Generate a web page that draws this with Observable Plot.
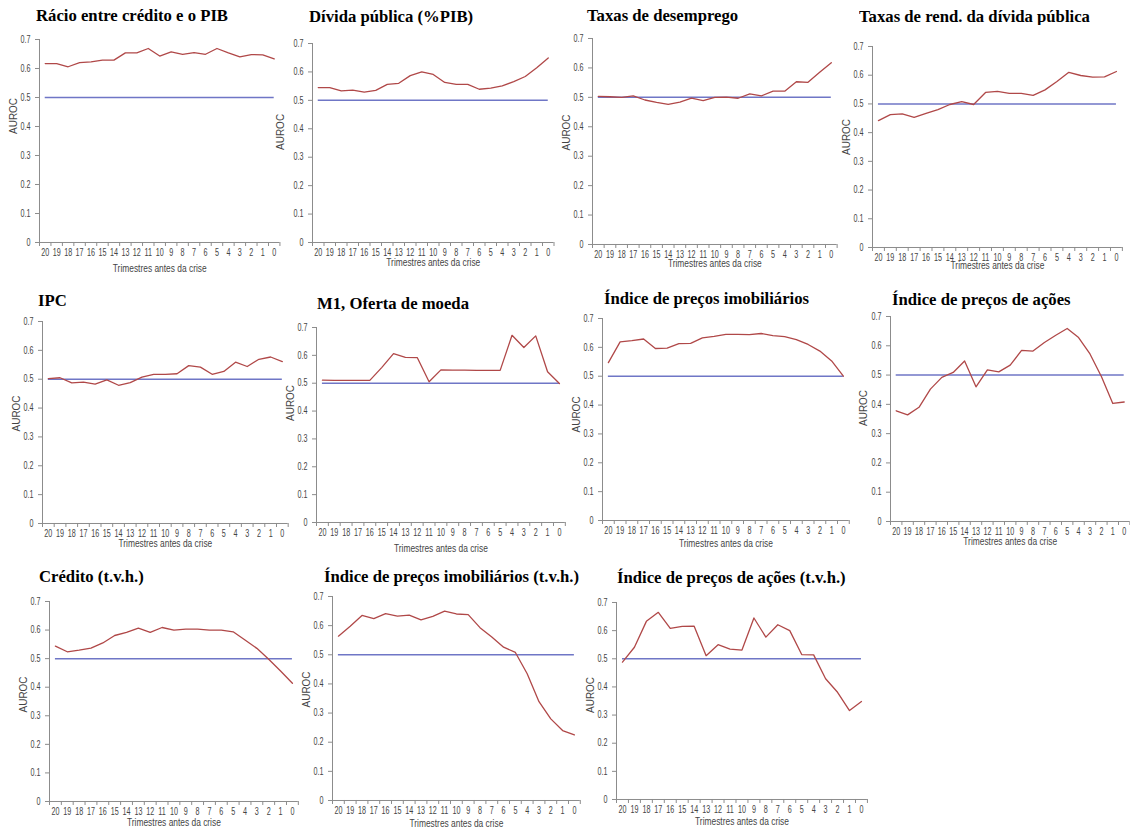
<!DOCTYPE html>
<html><head><meta charset="utf-8">
<script src="https://cdn.jsdelivr.net/npm/d3@7"></script>
<script src="https://cdn.jsdelivr.net/npm/@observablehq/plot@0.6"></script>
<style>
html,body{margin:0;padding:0;background:#fff;}
#wrap{position:relative;width:1130px;height:830px;overflow:hidden;background:#fff;}
.ttl{position:absolute;font-family:"Liberation Serif","Times New Roman",serif;font-weight:bold;font-size:16.7px;line-height:16.7px;color:#000;white-space:nowrap;}
.pl{position:absolute;}
</style></head><body><div id="wrap"></div>
<script>
// ---- data ----
const quarters = [20,19,18,17,16,15,14,13,12,11,10,9,8,7,6,5,4,3,2,1,0];
const yTicks = [0,0.1,0.2,0.3,0.4,0.5,0.6,0.7];
const xTitle = "Trimestres antes da crise";
const yTitle = "AUROC";
const threshold = 0.5;
const titles = [
  "Rácio entre crédito e o PIB",
  "Dívida pública (%PIB)",
  "Taxas de desemprego",
  "Taxas de rend. da dívida pública",
  "IPC",
  "M1, Oferta de moeda",
  "Índice de preços imobiliários",
  "Índice de preços de ações",
  "Crédito (t.v.h.)",
  "Índice de preços imobiliários  (t.v.h.)",
  "Índice de preços de ações (t.v.h.)"
];
const racioCreditoPIB = [0.617,0.617,0.606,0.620,0.623,0.629,0.629,0.654,0.654,0.669,0.643,0.657,0.649,0.655,0.649,0.669,0.654,0.640,0.648,0.647,0.633];
const dividaPublica = [0.545,0.545,0.533,0.536,0.529,0.535,0.556,0.560,0.587,0.600,0.591,0.563,0.556,0.556,0.539,0.543,0.551,0.566,0.584,0.615,0.649];
const taxasDesemprego = [0.503,0.502,0.500,0.505,0.491,0.483,0.476,0.484,0.497,0.489,0.500,0.501,0.497,0.512,0.505,0.521,0.521,0.553,0.551,0.585,0.618];
const taxasRendDivida = [0.442,0.463,0.465,0.453,0.467,0.480,0.498,0.508,0.498,0.540,0.544,0.537,0.537,0.530,0.549,0.578,0.610,0.599,0.593,0.594,0.613];
const ipc = [0.502,0.505,0.487,0.490,0.483,0.498,0.479,0.488,0.507,0.517,0.517,0.519,0.547,0.542,0.517,0.527,0.559,0.544,0.569,0.577,0.561];
const m1OfertaMoeda = [0.511,0.510,0.510,0.510,0.510,0.556,0.606,0.593,0.592,0.505,0.548,0.547,0.547,0.546,0.546,0.546,0.672,0.628,0.670,0.541,0.499];
const precosImobiliarios = [0.547,0.619,0.623,0.629,0.596,0.597,0.613,0.614,0.633,0.638,0.645,0.645,0.644,0.648,0.641,0.637,0.627,0.610,0.587,0.553,0.500];
const precosAcoes = [0.378,0.364,0.390,0.452,0.492,0.509,0.548,0.460,0.518,0.511,0.534,0.584,0.582,0.611,0.636,0.659,0.628,0.572,0.495,0.403,0.408];
const creditoTvh = [0.544,0.524,0.530,0.537,0.555,0.581,0.592,0.607,0.592,0.609,0.600,0.603,0.603,0.600,0.600,0.594,0.565,0.536,0.498,0.457,0.414];
const precosImobiliariosTvh = [0.564,0.598,0.635,0.624,0.641,0.633,0.636,0.620,0.632,0.650,0.640,0.638,0.593,0.561,0.526,0.508,0.435,0.339,0.280,0.240,0.225];
const precosAcoesTvh = [0.488,0.541,0.633,0.665,0.608,0.615,0.616,0.511,0.550,0.534,0.531,0.645,0.577,0.621,0.600,0.515,0.514,0.429,0.381,0.316,0.348];
const series = [racioCreditoPIB, dividaPublica, taxasDesemprego, taxasRendDivida, ipc, m1OfertaMoeda,
  precosImobiliarios, precosAcoes, creditoTvh, precosImobiliariosTvh, precosAcoesTvh];

// ---- layout (page pixels) ----
// ax: y-axis x, y7/y0: y of 0.7 and 0, x20/x0: x of first/last point, tx/tb: title left/baseline,
// xt: x-title offset below axis, ay: AUROC vertical shift, adx: AUROC horizontal offset
const layout = [
  {ax:39,  y7:39,  y0:242, x20:43,  x0:272,  tx:36,  tb:22,  xt:30, ay:-7, adx:-26},
  {ax:312, y7:43,  y0:242, x20:318, x0:548,  tx:309, tb:23,  xt:23, ay:7,  adx:-32},
  {ax:592, y7:38,  y0:244, x20:598, x0:831,  tx:587, tb:22,  xt:23, ay:9,  adx:-26},
  {ax:872, y7:46,  y0:247, x20:879, x0:1117, tx:859, tb:23,  xt:22, ay:8,  adx:-26, clip:25},
  {ax:42,  y7:321, y0:523, x20:48,  x0:282,  tx:38,  tb:307, xt:24, ay:9,  adx:-26},
  {ax:316, y7:327, y0:522, x20:323, x0:560,  tx:317, tb:310, xt:30, ay:-4, adx:-26},
  {ax:602, y7:318, y0:520, x20:608, x0:843,  tx:604, tb:305, xt:26, ay:13, adx:-26},
  {ax:890, y7:316, y0:521, x20:896, x0:1124, tx:892, tb:306, xt:24, ay:7,  adx:-27},
  {ax:49,  y7:601, y0:801, x20:53,  x0:290,  tx:39,  tb:583, xt:25, ay:11, adx:-26},
  {ax:332, y7:596, y0:800, x20:337, x0:573,  tx:324, tb:583, xt:27, ay:9,  adx:-26},
  {ax:616, y7:602, y0:799, x20:621, x0:860,  tx:617, tb:584, xt:26, ay:12, adx:-26}
];

const RED = "#b04848", BLUE = "#6f76c6", AXIS = "#8c8c8c", TXT = "#444444";
const SANS = "'Liberation Sans',Arial,sans-serif";
const TFS = 16.7;
const wrap = document.getElementById("wrap");

layout.forEach((p, i) => {
  const band = (p.x0 - p.x20) / 20;
  const ml = 45, mr = 6, mt = 8, mb = 42;
  const W = ml + 21 * band + mr;
  const H = mt + (p.y0 - p.y7) + mb;
  const data = quarters.map((q, k) => ({q, v: series[i][k]}));
  const halfTicks = quarters.map(q => q + 0.5).concat([-0.5]);
  const svg = Plot.plot({
    width: W, height: H,
    marginLeft: ml, marginRight: mr, marginTop: mt, marginBottom: mb,
    style: {background: "transparent", overflow: "visible", fontFamily: SANS, fontSize: "10px", color: TXT},
    x: {domain: [20.5, -0.5]},
    y: {domain: [0, 0.7]},
    marks: [
      Plot.ruleY([threshold], {x1: 20, x2: 0, stroke: BLUE, strokeWidth: 1.5}),
      Plot.line(data, {x: "q", y: "v", stroke: RED, strokeWidth: 1.3}),
      Plot.ruleX([20.5], {y1: 0, y2: 0.7, stroke: AXIS}),
      Plot.ruleY([0], {stroke: AXIS}),
      Plot.axisY({ticks: yTicks, tickSize: 4, tickPadding: 5, stroke: AXIS, fill: TXT, fontSize: 10,
        tickFormat: d => d === 0 ? "0" : d.toFixed(1), label: null}),
      Plot.axisX({ticks: halfTicks, tickSize: 4, stroke: AXIS, tickFormat: () => "", label: null}),
      Plot.axisX({ticks: quarters, tickSize: 0, tickPadding: 6, fill: TXT, fontSize: 10, tickFormat: d => String(d), label: null}),
      Plot.text([yTitle], {frameAnchor: "left", dx: p.adx, dy: p.ay, rotate: -90, fill: TXT,
        fontFamily: SANS, fontSize: 10}),
      Plot.text([xTitle], {frameAnchor: "bottom", dy: p.xt, fill: TXT, fontSize: 10.5})
    ]
  });
  svg.classList.add("pl");
  svg.style.left = (p.ax - ml) + "px";
  svg.style.top = (p.y7 - mt) + "px";
  svg.style.maxWidth = "none";
  wrap.appendChild(svg);

  // horizontally condensed chart lettering, as in the reference
  svg.querySelectorAll("text").forEach(t => {
    const s = t.textContent;
    if (!s || s === yTitle) return;
    const L = t.getComputedTextLength();
    const k = s === xTitle ? 0.8 : 0.72;
    if (L > 0) {
      t.setAttribute("textLength", (L * k).toFixed(2));
      t.setAttribute("lengthAdjust", "spacingAndGlyphs");
    }
  });

  const t = document.createElement("div");
  t.className = "ttl";
  t.textContent = titles[i];
  t.style.left = p.tx + "px";
  const top = p.tb - 0.8375 * TFS;
  t.style.top = top + "px";
  if (p.clip) { t.style.height = (p.clip - top) + "px"; t.style.overflow = "hidden"; }
  wrap.appendChild(t);
});
</script>
</body></html>
